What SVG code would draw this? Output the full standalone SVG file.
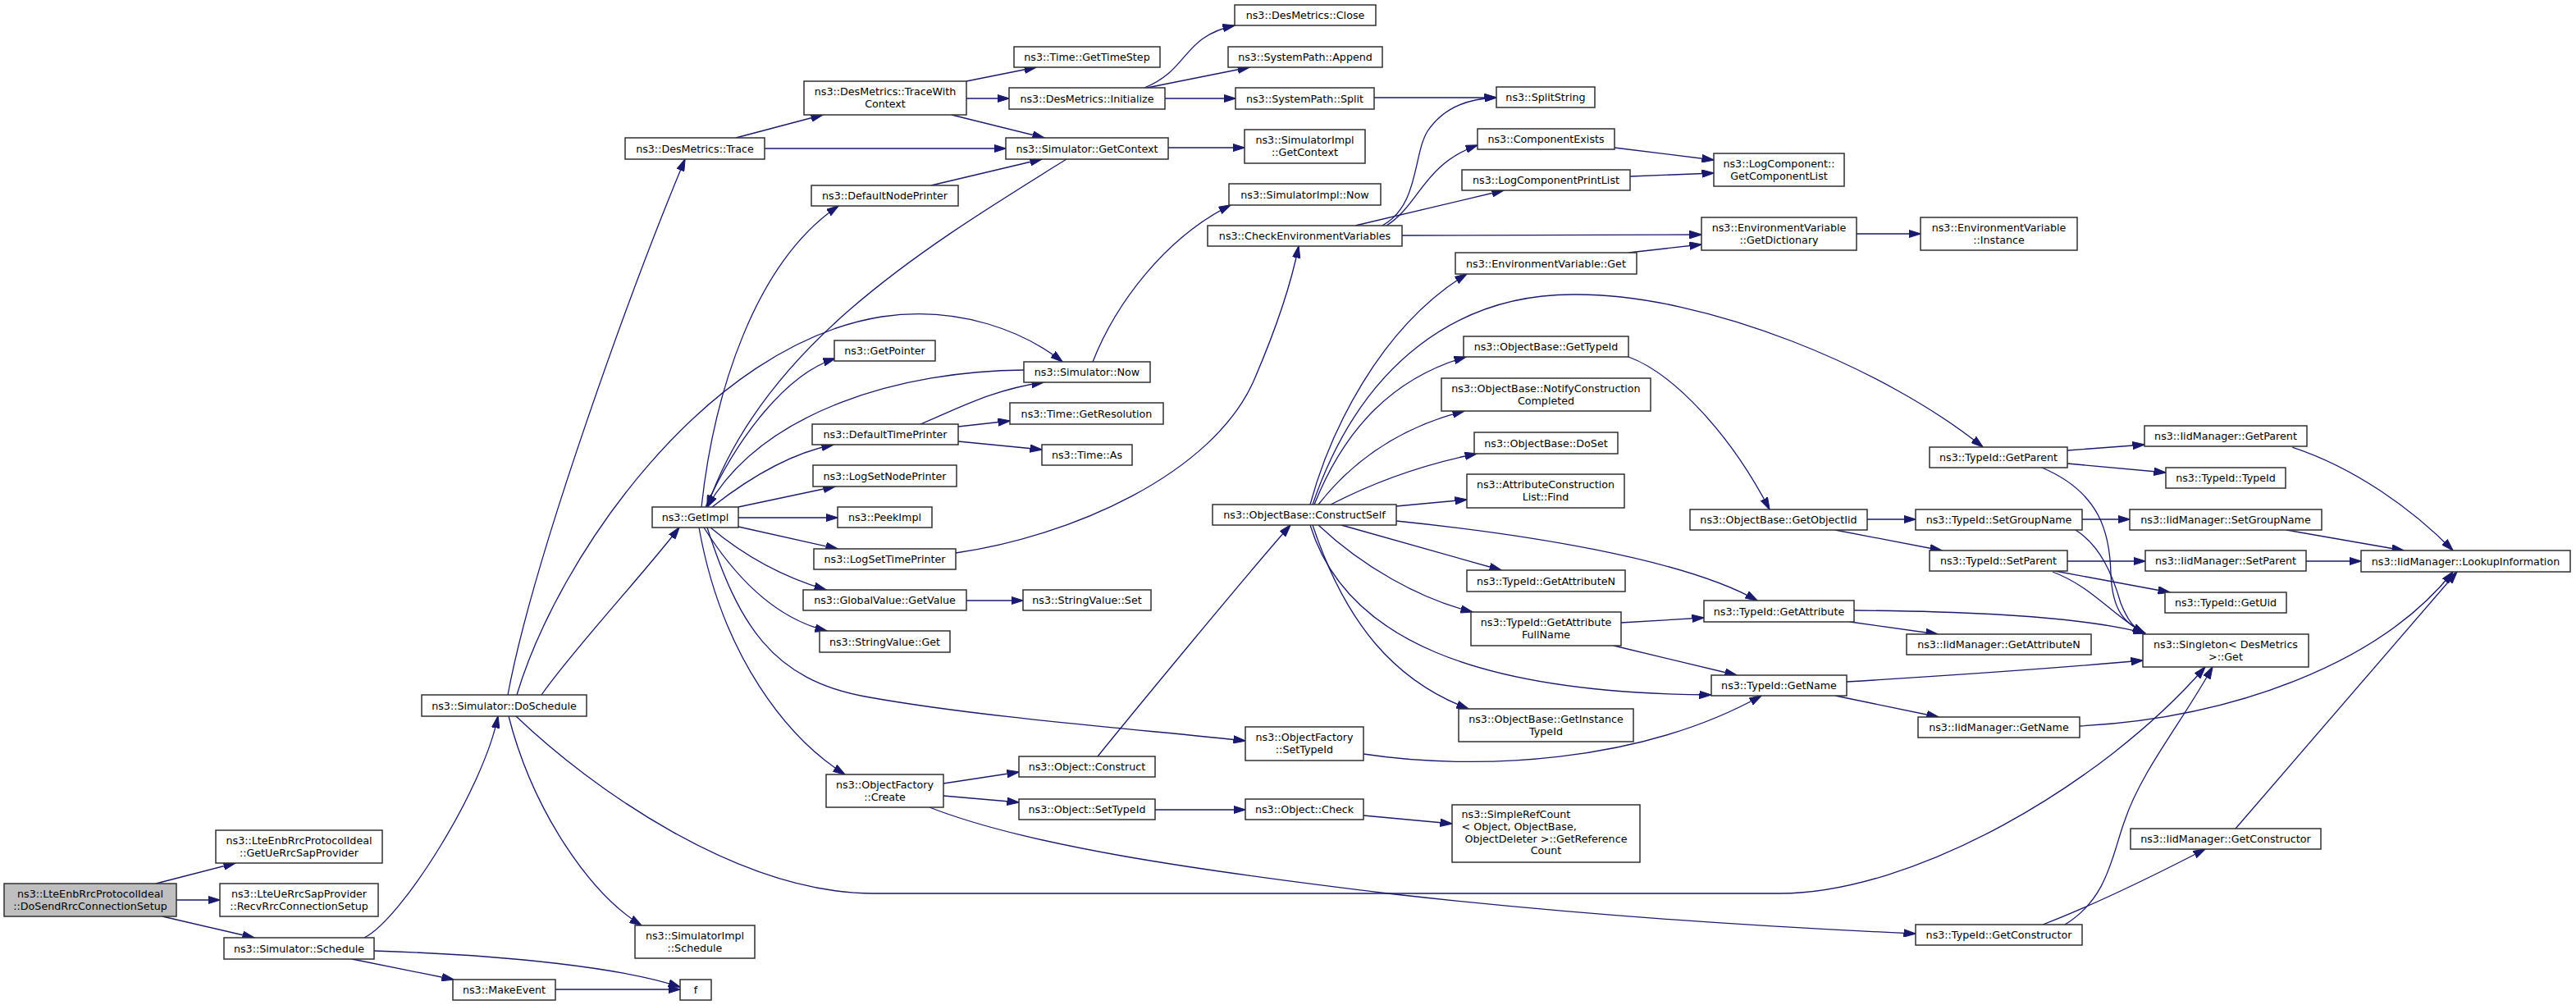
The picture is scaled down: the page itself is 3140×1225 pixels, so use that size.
<svg xmlns="http://www.w3.org/2000/svg" width="3140" height="1225" viewBox="0 0 3140 1225">
<defs>
<style>
.n rect{fill:#fff;stroke:#303030;stroke-width:1.5}
.n text{font-family:"DejaVu Sans",sans-serif;font-size:12.7px;fill:#000;text-anchor:middle}
.root rect{fill:#bfbfbf}
#edges path{fill:none;stroke:#191970;stroke-width:1.3;marker-end:url(#a)}
</style>
<marker id="a" viewBox="0 0 15 10" refX="14.5" refY="5" markerWidth="15" markerHeight="10" markerUnits="userSpaceOnUse" orient="auto">
<path d="M0,0.3 L15,5 L0,9.7 z" fill="#191970" stroke="#191970" stroke-width="1"/>
</marker>
</defs>
<rect width="3140" height="1225" fill="#fff"/>
<g id="edges">
<path d="M190,1077 L287,1052"/>
<path d="M215,1097 L268,1097"/>
<path d="M198,1117 L310,1143"/>
<path d="M444,1143 C490,1120 590,960 607,873"/>
<path d="M429,1169 L553,1194"/>
<path d="M456,1159 C620,1164 760,1180 829,1203"/>
<path d="M677,1206 L829,1206"/>
<path d="M619,847 C650,680 770,350 835,194"/>
<path d="M630,847 C680,680 860,420 1075,386 C1170,372 1250,405 1295,441"/>
<path d="M660,847 C700,790 780,705 828,643"/>
<path d="M620,873 C650,990 720,1090 782,1128"/>
<path d="M629,873 C720,960 900,1089 1065,1089 L2170,1089 C2330,1089 2560,960 2688,813"/>
<path d="M897,168 L1003,140"/>
<path d="M932,181 L1226,181"/>
<path d="M1178,99 L1263,82"/>
<path d="M1178,120 L1230,120"/>
<path d="M1160,140 L1273,168"/>
<path d="M1395,107 C1450,85 1440,45 1505,31"/>
<path d="M1398,107 L1523,82"/>
<path d="M1420,120 L1506,120"/>
<path d="M1675,119 L1824,119"/>
<path d="M1424,180 L1517,180"/>
<path d="M1300,194 C1130,300 930,420 862,618"/>
<path d="M1135,226 L1270,194"/>
<path d="M855,618 C870,480 920,320 1022,251"/>
<path d="M860,618 C900,530 960,455 1018,437"/>
<path d="M1248,451 C1100,452 930,500 862,618"/>
<path d="M868,618 C910,585 960,553 1016,542"/>
<path d="M1168,520 L1231,513"/>
<path d="M1168,538 L1270,548"/>
<path d="M1122,517 C1170,497 1210,475 1272,466"/>
<path d="M900,618 L1018,593"/>
<path d="M900,631 L1021,631"/>
<path d="M900,642 L1021,669"/>
<path d="M1165,674 C1300,655 1480,580 1530,460 C1560,390 1575,340 1583,300"/>
<path d="M866,643 C910,680 960,705 1007,719"/>
<path d="M1178,732 L1247,732"/>
<path d="M858,643 C900,710 950,755 1008,769"/>
<path d="M852,643 C880,800 960,900 1030,944"/>
<path d="M862,643 C900,760 940,830 1060,850 C1200,875 1400,890 1518,903"/>
<path d="M1150,955 L1242,941"/>
<path d="M1150,970 L1242,978"/>
<path d="M1133,984 C1250,1030 1450,1060 1700,1090 C1950,1118 2200,1132 2335,1138"/>
<path d="M1408,987 L1518,987"/>
<path d="M1662,994 L1770,1004"/>
<path d="M1338,922 C1380,870 1520,700 1573,640"/>
<path d="M1662,919 C1800,940 2000,930 2147,848"/>
<path d="M1597,615 C1620,530 1680,400 1788,334"/>
<path d="M1600,615 C1660,440 1780,358 1920,359 C2080,358 2300,450 2417,545"/>
<path d="M1602,615 C1640,520 1700,460 1787,435"/>
<path d="M1607,615 C1650,560 1710,520 1785,501"/>
<path d="M1622,615 C1680,585 1740,565 1800,553"/>
<path d="M1702,617 L1788,609"/>
<path d="M1635,640 L1830,695"/>
<path d="M1607,640 C1660,690 1730,730 1795,746"/>
<path d="M1702,635 C1850,650 2050,680 2142,732"/>
<path d="M1600,640 C1640,760 1700,830 1790,864"/>
<path d="M1597,640 C1640,780 1800,845 2086,847"/>
<path d="M1985,435 C2040,455 2110,530 2157,621"/>
<path d="M2276,633 L2335,633"/>
<path d="M2237,646 L2367,671"/>
<path d="M1976,759 L2077,753"/>
<path d="M1967,787 L2117,823"/>
<path d="M2260,744 C2400,745 2540,752 2615,772"/>
<path d="M2255,758 L2362,773"/>
<path d="M2251,831 C2400,822 2500,815 2612,805"/>
<path d="M2237,848 L2363,874"/>
<path d="M2535,885 C2720,875 2900,810 2990,697"/>
<path d="M2490,1127 C2560,1100 2630,1065 2688,1035"/>
<path d="M2517,1127 C2570,1095 2575,1040 2590,1000 C2610,940 2660,880 2697,813"/>
<path d="M2725,1010 L2995,697"/>
<path d="M2520,549 L2614,542"/>
<path d="M2520,565 L2640,576"/>
<path d="M2489,570 C2560,600 2572,650 2573,700 C2575,745 2590,760 2615,772"/>
<path d="M2538,633 L2596,633"/>
<path d="M2530,646 C2560,665 2575,700 2585,735 C2593,755 2600,765 2614,772"/>
<path d="M2520,684 L2615,684"/>
<path d="M2505,696 L2645,722"/>
<path d="M2502,697 C2550,715 2575,750 2614,772"/>
<path d="M2794,545 C2870,570 2940,620 2990,671"/>
<path d="M2787,646 L2930,671"/>
<path d="M2811,684 L2878,684"/>
<path d="M1685,275 C1730,250 1722,190 1740,160 C1760,130 1790,120 1824,119"/>
<path d="M1690,275 C1730,250 1735,200 1801,177"/>
<path d="M1652,275 L1833,232"/>
<path d="M1709,287 L2074,286"/>
<path d="M1968,180 L2089,195"/>
<path d="M1987,215 L2089,211"/>
<path d="M1985,308 L2074,298"/>
<path d="M2263,285 L2341,285"/>
<path d="M1332,441 C1360,370 1420,290 1500,250"/>
</g>
<g id="n1" class="n root"><rect x="5" y="1077" width="210" height="40"/><text x="110" y="1093.5">ns3::LteEnbRrcProtocolIdeal</text><text x="110" y="1108.5">::DoSendRrcConnectionSetup</text></g>
<g id="n2" class="n"><rect x="263" y="1012" width="203" height="40"/><text x="364.5" y="1028.5">ns3::LteEnbRrcProtocolIdeal</text><text x="364.5" y="1043.5">::GetUeRrcSapProvider</text></g>
<g id="n3" class="n"><rect x="268" y="1077" width="193" height="40"/><text x="364.5" y="1093.5">ns3::LteUeRrcSapProvider</text><text x="364.5" y="1108.5">::RecvRrcConnectionSetup</text></g>
<g id="n4" class="n"><rect x="273" y="1143" width="183" height="26"/><text x="364.5" y="1160.5">ns3::Simulator::Schedule</text></g>
<g id="n5" class="n"><rect x="514" y="847" width="201" height="26"/><text x="614.5" y="864.5">ns3::Simulator::DoSchedule</text></g>
<g id="n6" class="n"><rect x="552" y="1194" width="125" height="25"/><text x="614.5" y="1211">ns3::MakeEvent</text></g>
<g id="n7" class="n"><rect x="829" y="1194" width="38" height="25"/><text x="848" y="1211">f</text></g>
<g id="n8" class="n"><rect x="774" y="1128" width="146" height="40"/><text x="847" y="1144.5">ns3::SimulatorImpl</text><text x="847" y="1159.5">::Schedule</text></g>
<g id="n9" class="n"><rect x="762" y="168" width="170" height="26"/><text x="847" y="185.5">ns3::DesMetrics::Trace</text></g>
<g id="n10" class="n"><rect x="980" y="99" width="198" height="41"/><text x="1079" y="116">ns3::DesMetrics::TraceWith</text><text x="1079" y="131">Context</text></g>
<g id="n11" class="n"><rect x="1236" y="57" width="178" height="25"/><text x="1325" y="74">ns3::Time::GetTimeStep</text></g>
<g id="n12" class="n"><rect x="1230" y="107" width="190" height="26"/><text x="1325" y="124.5">ns3::DesMetrics::Initialize</text></g>
<g id="n13" class="n"><rect x="1505" y="6" width="172" height="25"/><text x="1591" y="23">ns3::DesMetrics::Close</text></g>
<g id="n14" class="n"><rect x="1497" y="57" width="188" height="25"/><text x="1591" y="74">ns3::SystemPath::Append</text></g>
<g id="n15" class="n"><rect x="1506" y="107" width="169" height="26"/><text x="1590.5" y="124.5">ns3::SystemPath::Split</text></g>
<g id="n16" class="n"><rect x="1824" y="106" width="120" height="25"/><text x="1884" y="123">ns3::SplitString</text></g>
<g id="n17" class="n"><rect x="1226" y="168" width="198" height="26"/><text x="1325" y="185.5">ns3::Simulator::GetContext</text></g>
<g id="n18" class="n"><rect x="1517" y="158" width="147" height="41"/><text x="1590.5" y="175">ns3::SimulatorImpl</text><text x="1590.5" y="190">::GetContext</text></g>
<g id="n19" class="n"><rect x="989" y="226" width="179" height="25"/><text x="1078.5" y="243">ns3::DefaultNodePrinter</text></g>
<g id="n20" class="n"><rect x="1498" y="224" width="185" height="26"/><text x="1590.5" y="241.5">ns3::SimulatorImpl::Now</text></g>
<g id="n21" class="n"><rect x="1472" y="275" width="237" height="25"/><text x="1590.5" y="292">ns3::CheckEnvironmentVariables</text></g>
<g id="n22" class="n"><rect x="1801" y="157" width="167" height="25"/><text x="1884.5" y="174">ns3::ComponentExists</text></g>
<g id="n23" class="n"><rect x="1782" y="207" width="205" height="25"/><text x="1884.5" y="224">ns3::LogComponentPrintList</text></g>
<g id="n24" class="n"><rect x="2089" y="187" width="159" height="40"/><text x="2168.5" y="203.5">ns3::LogComponent::</text><text x="2168.5" y="218.5">GetComponentList</text></g>
<g id="n25" class="n"><rect x="2074" y="265" width="189" height="40"/><text x="2168.5" y="281.5">ns3::EnvironmentVariable</text><text x="2168.5" y="296.5">::GetDictionary</text></g>
<g id="n26" class="n"><rect x="2341" y="265" width="191" height="40"/><text x="2436.5" y="281.5">ns3::EnvironmentVariable</text><text x="2436.5" y="296.5">::Instance</text></g>
<g id="n27" class="n"><rect x="1774" y="308" width="221" height="26"/><text x="1884.5" y="325.5">ns3::EnvironmentVariable::Get</text></g>
<g id="n28" class="n"><rect x="795" y="618" width="105" height="25"/><text x="847.5" y="635">ns3::GetImpl</text></g>
<g id="n29" class="n"><rect x="1017" y="415" width="123" height="25"/><text x="1078.5" y="432">ns3::GetPointer</text></g>
<g id="n30" class="n"><rect x="1248" y="441" width="154" height="25"/><text x="1325" y="458">ns3::Simulator::Now</text></g>
<g id="n31" class="n"><rect x="990" y="517" width="178" height="25"/><text x="1079" y="534">ns3::DefaultTimePrinter</text></g>
<g id="n32" class="n"><rect x="1231" y="491" width="187" height="26"/><text x="1324.5" y="508.5">ns3::Time::GetResolution</text></g>
<g id="n33" class="n"><rect x="1270" y="542" width="110" height="25"/><text x="1325" y="559">ns3::Time::As</text></g>
<g id="n34" class="n"><rect x="991" y="567" width="175" height="26"/><text x="1078.5" y="584.5">ns3::LogSetNodePrinter</text></g>
<g id="n35" class="n"><rect x="1021" y="618" width="115" height="25"/><text x="1078.5" y="635">ns3::PeekImpl</text></g>
<g id="n36" class="n"><rect x="992" y="669" width="173" height="25"/><text x="1078.5" y="686">ns3::LogSetTimePrinter</text></g>
<g id="n37" class="n"><rect x="979" y="719" width="199" height="25"/><text x="1078.5" y="736">ns3::GlobalValue::GetValue</text></g>
<g id="n38" class="n"><rect x="1247" y="719" width="156" height="25"/><text x="1325" y="736">ns3::StringValue::Set</text></g>
<g id="n39" class="n"><rect x="999" y="769" width="159" height="26"/><text x="1078.5" y="786.5">ns3::StringValue::Get</text></g>
<g id="n40" class="n"><rect x="1007" y="944" width="143" height="40"/><text x="1078.5" y="960.5">ns3::ObjectFactory</text><text x="1078.5" y="975.5">::Create</text></g>
<g id="n41" class="n"><rect x="1242" y="922" width="166" height="25"/><text x="1325" y="939">ns3::Object::Construct</text></g>
<g id="n42" class="n"><rect x="1242" y="974" width="166" height="25"/><text x="1325" y="991">ns3::Object::SetTypeId</text></g>
<g id="n43" class="n"><rect x="1518" y="974" width="144" height="25"/><text x="1590" y="991">ns3::Object::Check</text></g>
<g id="n44" class="n"><rect x="1770" y="981" width="229" height="70"/><text x="1781.5" y="997" style="text-anchor:start">ns3::SimpleRefCount</text><text x="1781.5" y="1012" style="text-anchor:start">&lt; Object, ObjectBase,</text><text x="1785.5" y="1027" style="text-anchor:start">ObjectDeleter &gt;::GetReference</text><text x="1884.5" y="1041">Count</text></g>
<g id="n45" class="n"><rect x="1518" y="886" width="144" height="41"/><text x="1590" y="903">ns3::ObjectFactory</text><text x="1590" y="918">::SetTypeId</text></g>
<g id="n46" class="n"><rect x="1478" y="615" width="224" height="25"/><text x="1590" y="632">ns3::ObjectBase::ConstructSelf</text></g>
<g id="n47" class="n"><rect x="1784" y="410" width="201" height="25"/><text x="1884.5" y="427">ns3::ObjectBase::GetTypeId</text></g>
<g id="n48" class="n"><rect x="1757" y="461" width="255" height="40"/><text x="1884.5" y="477.5">ns3::ObjectBase::NotifyConstruction</text><text x="1884.5" y="492.5">Completed</text></g>
<g id="n49" class="n"><rect x="1797" y="527" width="175" height="26"/><text x="1884.5" y="544.5">ns3::ObjectBase::DoSet</text></g>
<g id="n50" class="n"><rect x="1788" y="578" width="192" height="41"/><text x="1884" y="595">ns3::AttributeConstruction</text><text x="1884" y="610">List::Find</text></g>
<g id="n51" class="n"><rect x="1788" y="695" width="193" height="26"/><text x="1884.5" y="712.5">ns3::TypeId::GetAttributeN</text></g>
<g id="n52" class="n"><rect x="1793" y="746" width="183" height="41"/><text x="1884.5" y="763">ns3::TypeId::GetAttribute</text><text x="1884.5" y="778">FullName</text></g>
<g id="n53" class="n"><rect x="1778" y="864" width="213" height="40"/><text x="1884.5" y="880.5">ns3::ObjectBase::GetInstance</text><text x="1884.5" y="895.5">TypeId</text></g>
<g id="n54" class="n"><rect x="2060" y="621" width="216" height="25"/><text x="2168" y="638">ns3::ObjectBase::GetObjectIid</text></g>
<g id="n55" class="n"><rect x="2077" y="732" width="183" height="26"/><text x="2168.5" y="749.5">ns3::TypeId::GetAttribute</text></g>
<g id="n56" class="n"><rect x="2086" y="823" width="165" height="25"/><text x="2168.5" y="840">ns3::TypeId::GetName</text></g>
<g id="n57" class="n"><rect x="2352" y="545" width="168" height="25"/><text x="2436" y="562">ns3::TypeId::GetParent</text></g>
<g id="n58" class="n"><rect x="2614" y="519" width="198" height="25"/><text x="2713" y="536">ns3::IidManager::GetParent</text></g>
<g id="n59" class="n"><rect x="2640" y="570" width="146" height="25"/><text x="2713" y="587">ns3::TypeId::TypeId</text></g>
<g id="n60" class="n"><rect x="2335" y="621" width="203" height="25"/><text x="2436.5" y="638">ns3::TypeId::SetGroupName</text></g>
<g id="n61" class="n"><rect x="2596" y="621" width="234" height="25"/><text x="2713" y="638">ns3::IidManager::SetGroupName</text></g>
<g id="n62" class="n"><rect x="2352" y="671" width="168" height="25"/><text x="2436" y="688">ns3::TypeId::SetParent</text></g>
<g id="n63" class="n"><rect x="2615" y="671" width="196" height="25"/><text x="2713" y="688">ns3::IidManager::SetParent</text></g>
<g id="n64" class="n"><rect x="2639" y="722" width="148" height="25"/><text x="2713" y="739">ns3::TypeId::GetUid</text></g>
<g id="n65" class="n"><rect x="2878" y="671" width="255" height="26"/><text x="3005.5" y="688.5">ns3::IidManager::LookupInformation</text></g>
<g id="n66" class="n"><rect x="2324" y="773" width="225" height="25"/><text x="2436.5" y="790">ns3::IidManager::GetAttributeN</text></g>
<g id="n67" class="n"><rect x="2612" y="773" width="202" height="40"/><text x="2713" y="789.5">ns3::Singleton&lt; DesMetrics</text><text x="2713" y="804.5">&gt;::Get</text></g>
<g id="n68" class="n"><rect x="2338" y="874" width="197" height="25"/><text x="2436.5" y="891">ns3::IidManager::GetName</text></g>
<g id="n69" class="n"><rect x="2597" y="1010" width="232" height="25"/><text x="2713" y="1027">ns3::IidManager::GetConstructor</text></g>
<g id="n70" class="n"><rect x="2335" y="1127" width="203" height="25"/><text x="2436.5" y="1144">ns3::TypeId::GetConstructor</text></g>
</svg>
